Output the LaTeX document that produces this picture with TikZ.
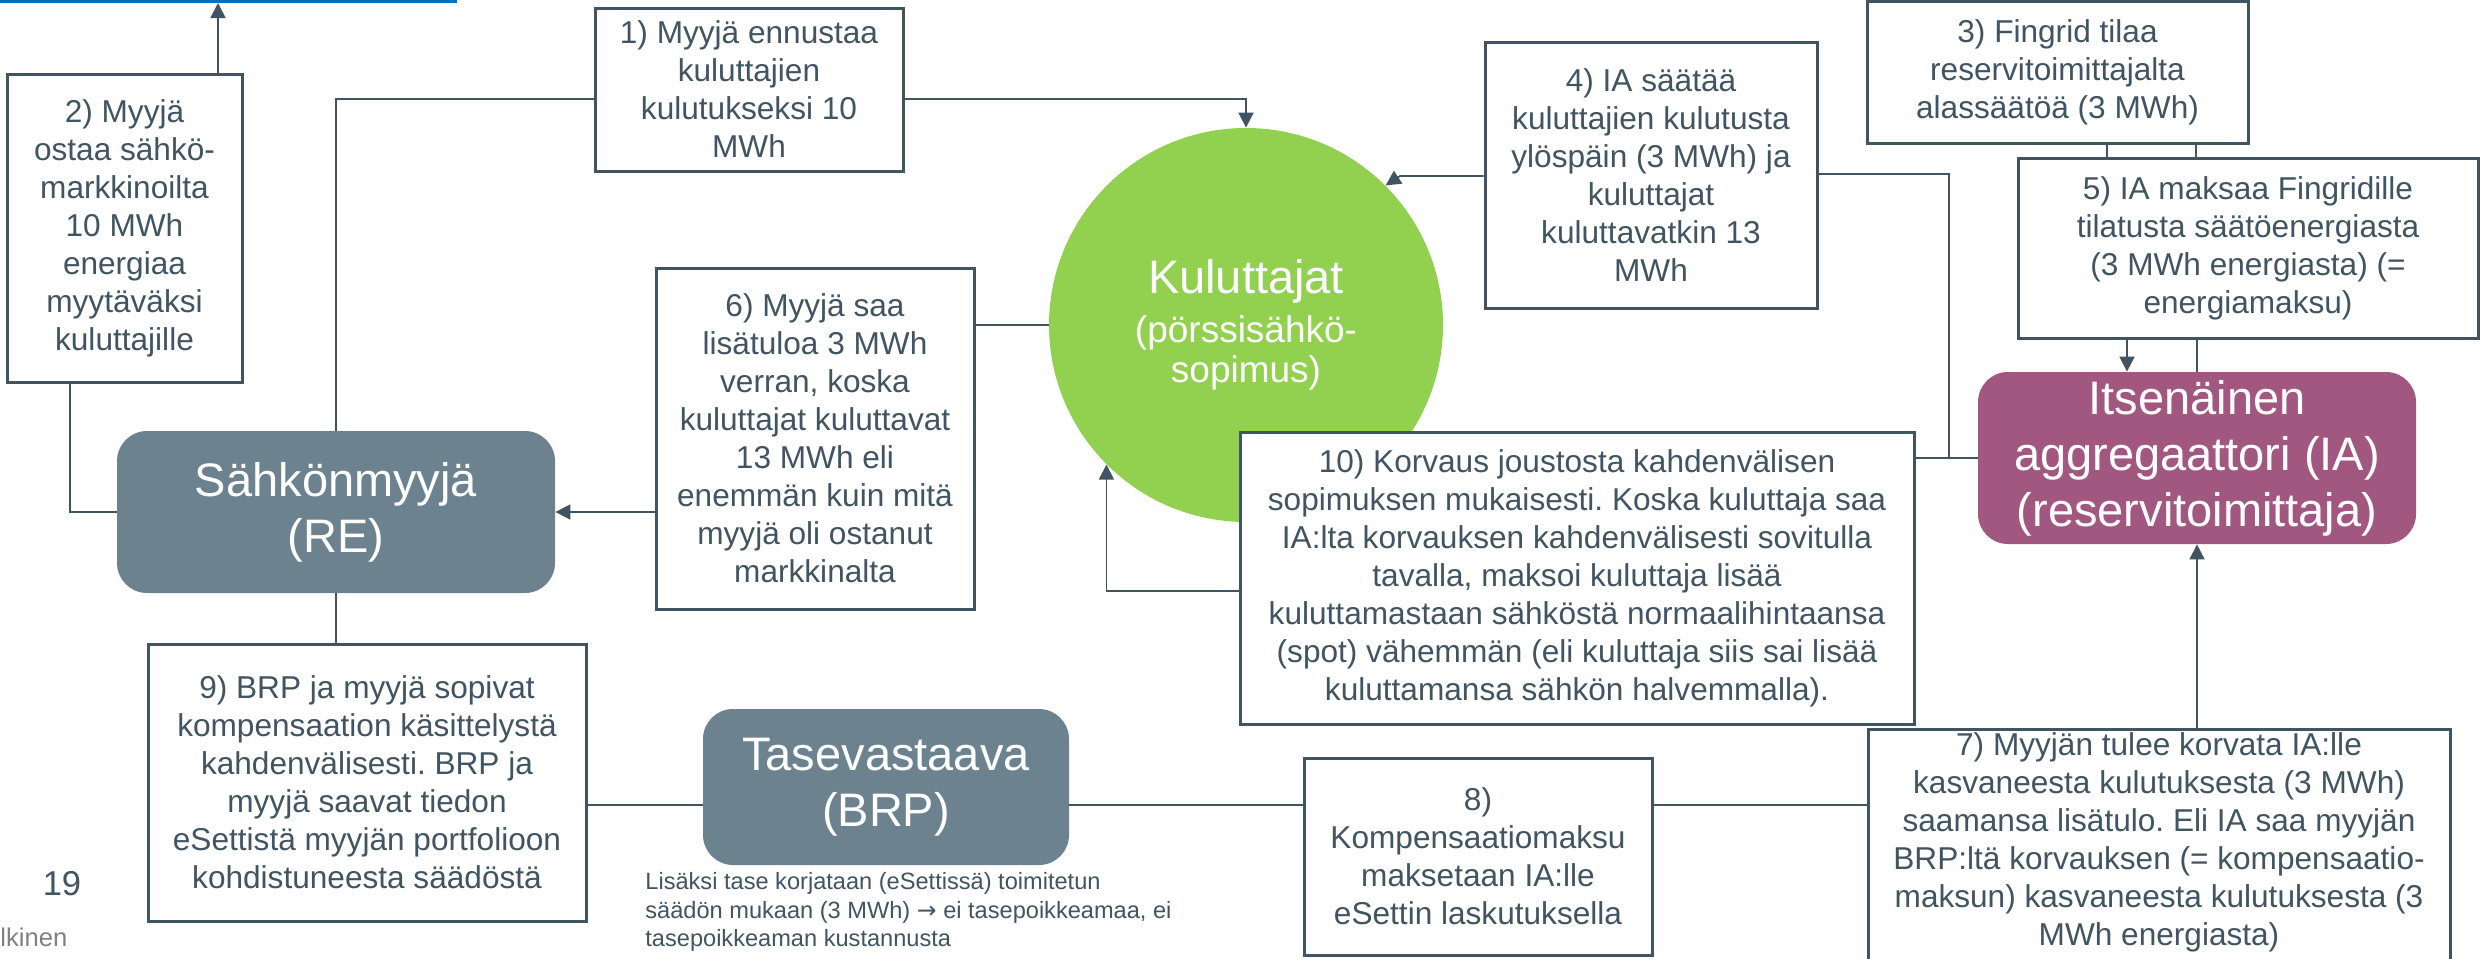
\documentclass[tikz,border=0pt]{standalone}
\usepackage{fontspec}
\setmainfont{Liberation Sans}
\newfontfamily\djv{DejaVu Sans}
\usetikzlibrary{arrows.meta}
\definecolor{slate}{RGB}{64,84,97}
\definecolor{nodegray}{RGB}{109,130,143}
\definecolor{iapurple}{RGB}{161,87,128}
\definecolor{kgreen}{RGB}{146,208,80}
\definecolor{topblue}{RGB}{0,112,192}
\definecolor{footgray}{RGB}{128,128,128}
\frenchspacing
\begin{document}
\begin{tikzpicture}[x=0.5pt,y=-0.5pt,
  txtbox/.style={draw=slate, line width=1.5pt, fill=white, align=center, text=slate, font=\fontsize{15.8}{19}\selectfont, inner sep=0pt},
  bignode/.style={rounded corners=15pt, text=white, align=center, font=\fontsize{23.5}{28}\selectfont, inner sep=0pt},
  conn/.style={draw=slate, line width=0.9pt},
  arr/.style={conn, -{Triangle[width=7.5pt,length=7.5pt]}},
  plain/.style={inner sep=0pt, text=slate}
]
\useasboundingbox (0,0) rectangle (2483,958);
\clip (0,0) rectangle (2483,958);

% helper coordinates
\coordinate (bl0) at (0,1.5);
\coordinate (bl1) at (457,1.5);
\coordinate (blA) at (218,3);
\coordinate (y99) at (0,99);
\coordinate (y176) at (0,176);
\coordinate (y174) at (0,174);
\coordinate (y591) at (0,591);
\coordinate (y805) at (0,805);
\coordinate (x70) at (70,0);
\coordinate (x1949) at (1949,0);
\coordinate (x2107) at (2107,0);
\coordinate (x2196) at (2196,0);
\coordinate (x2127) at (2127,0);
\coordinate (bend4) at (1400,176);

% top blue line
\draw[topblue, line width=1.5pt] (bl0) -- (bl1);

% Kuluttajat circle
\node[circle, fill=kgreen, minimum size=197pt, inner sep=0pt, text=white, align=center, font=\fontsize{23.5}{28}\selectfont] (K) at (1246,325)
  {Kuluttajat\\[-3.5pt]{\fontsize{18.5}{22}\selectfont(pörssisähkö-}\\[-8pt]{\fontsize{18.5}{22}\selectfont sopimus)}};

% rounded nodes
\node[bignode, fill=nodegray, minimum width=219pt, minimum height=81pt] (RE) at (336,512) {Sähkönmyyjä\\(RE)};
\node[bignode, fill=nodegray, minimum width=183pt, minimum height=78pt] (BRP) at (886,787) {Tasevastaava\\(BRP)};
\node[bignode, fill=iapurple, minimum width=219pt, minimum height=86pt] (IA) at (2197,458) {Itsenäinen\\aggregaattori (IA)\\(reservitoimittaja)};

% text boxes
\node[txtbox, minimum width=154pt, minimum height=81.5pt] (b1) at (749,89.5) {1) Myyjä ennustaa\\kuluttajien\\kulutukseksi 10\\MWh};
\node[txtbox, minimum width=117.5pt, minimum height=154pt] (b2) at (124.5,228) {2) Myyjä\\ostaa sähkö-\\markkinoilta\\10 MWh\\energiaa\\myytäväksi\\kuluttajille};
\node[txtbox, minimum width=190.5pt, minimum height=71pt] (b3) at (2057.5,72) {3) Fingrid tilaa\\reservitoimittajalta\\alassäätöä (3 MWh)};
\node[txtbox, minimum width=166pt, minimum height=133pt] (b4) at (1651,175) {4) IA säätää\\kuluttajien kulutusta\\ylöspäin (3 MWh) ja\\kuluttajat\\kuluttavatkin 13\\MWh};
\node[txtbox, minimum width=230pt, minimum height=90pt] (b5) at (2248,248) {5) IA maksaa Fingridille\\tilatusta säätöenergiasta\\(3 MWh energiasta) (=\\energiamaksu)};
\node[txtbox, minimum width=159pt, minimum height=170.5pt] (b6) at (815,438.5) {6) Myyjä saa\\lisätuloa 3 MWh\\verran, koska\\kuluttajat kuluttavat\\13 MWh eli\\enemmän kuin mitä\\myyjä oli ostanut\\markkinalta};
\node[txtbox, anchor=north, inner ysep=1.5pt, minimum width=291pt] (b7) at (2159,728) {7) Myyjän tulee korvata IA:lle\\kasvaneesta kulutuksesta (3 MWh)\\saamansa lisätulo. Eli IA saa myyjän\\BRP:ltä korvauksen (= kompensaatio-\\maksun) kasvaneesta kulutuksesta (3\\MWh energiasta)\\\mbox{}};
\node[txtbox, minimum width=174pt, minimum height=98.5pt] (b8) at (1478,856.5) {8)\\Kompensaatiomaksu\\maksetaan IA:lle\\eSettin laskutuksella};
\node[txtbox, minimum width=219pt, minimum height=138.5pt] (b9) at (367,782.5) {9) BRP ja myyjä sopivat\\kompensaation käsittelystä\\kahdenvälisesti. BRP ja\\myyjä saavat tiedon\\eSettistä myyjän portfolioon\\kohdistuneesta säädöstä};
\node[txtbox, minimum width=337pt, minimum height=146pt] (b10) at (1577,578) {10) Korvaus joustosta kahdenvälisen\\sopimuksen mukaisesti. Koska kuluttaja saa\\IA:lta korvauksen kahdenvälisesti sovitulla\\tavalla, maksoi kuluttaja lisää\\kuluttamastaan sähköstä normaalihintaansa\\(spot) vähemmän (eli kuluttaja siis sai lisää\\kuluttamansa sähkön halvemmalla).};

% free texts
\node[plain, anchor=north west, align=left, font=\fontsize{11.8}{14.25}\selectfont] (note) at (645,872) {Lisäksi tase korjataan (eSettissä) toimitetun\\säädön mukaan (3 MWh) {\djv →} ei tasepoikkeamaa, ei\\tasepoikkeaman kustannusta};
\node[plain, anchor=base, font=\fontsize{17.25}{20}\selectfont] (pg) at (62,895) {19};
\node[inner sep=0pt, text=footgray, anchor=base west, font=\fontsize{12.8}{15}\selectfont] (ft) at (0,946) {lkinen};

% connectors
\draw[arr] (b2.north -| blA) -- (blA);
\draw[conn] (b2.south -| x70) |- (RE.west);
\draw[conn] (RE.north) |- (b1.west |- y99);
\draw[arr] (b1.east |- y99) -| (K.north);
\draw[arr] (b4.west |- y176) -- (bend4) -- (K.north east);
\draw[conn] (b4.east |- y174) -| (IA.west -| x1949) -- (IA.west);
\draw[conn] (b10.east |- IA.west) -- (IA.west);
\draw[conn] (b3.south -| x2107) -- (b5.north -| x2107);
\draw[conn] (b3.south -| x2196) -- (b5.north -| x2196);
\draw[arr] (b5.south -| x2127) -- (IA.north -| x2127);
\draw[conn] (b5.south -| IA.north) -- (IA.north);
\draw[arr] (b7.north -| IA.south) -- (IA.south);
\draw[conn] (b8.east |- y805) -- (b7.west |- y805);
\draw[conn] (BRP.east |- y805) -- (b8.west |- y805);
\draw[conn] (b9.east |- y805) -- (BRP.west |- y805);
\draw[conn] (RE.south) -- (RE.south |- b9.north);
\draw[arr] (b6.west |- RE.east) -- (RE.east);
\draw[conn] (b6.east |- K.west) -- (K.west);
\draw[arr] (b10.west |- y591) -| (K.south west);
\end{tikzpicture}
\end{document}
